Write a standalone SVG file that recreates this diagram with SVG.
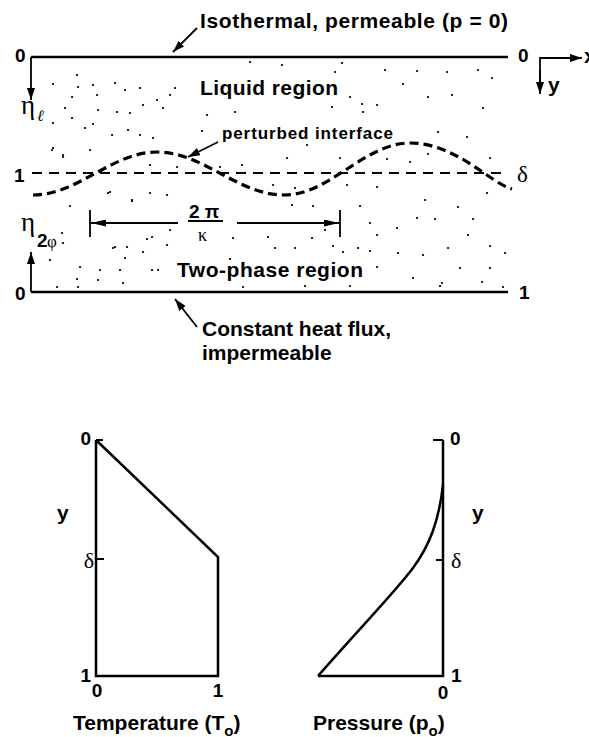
<svg xmlns="http://www.w3.org/2000/svg" width="589" height="737" viewBox="0 0 589 737">
<style>
.ln{stroke:#000;stroke-width:2.5;fill:none}
.th{stroke:#000;stroke-width:1.8;fill:none}
.t{font-family:"Liberation Sans",Arial,"DejaVu Sans",sans-serif;font-weight:bold;fill:#000}
.n{font-family:"Liberation Sans",Arial,"DejaVu Sans",sans-serif;font-weight:bold;font-size:19px;fill:#000}
.gk{font-family:"Liberation Serif","DejaVu Serif",serif;fill:#000}
.dots{stroke:#000;stroke-width:2.2;stroke-linecap:round;fill:none}
</style>
<defs>
<marker id="ah" viewBox="0 0 12 8" refX="12" refY="4" markerWidth="12" markerHeight="8" markerUnits="userSpaceOnUse" orient="auto">
<path d="M0,0 L12,4 L0,8 Z" fill="#000"/>
</marker>
<marker id="ah2" viewBox="0 0 15 7" refX="15" refY="3.5" markerWidth="15" markerHeight="7" markerUnits="userSpaceOnUse" orient="auto">
<path d="M0,0 L15,3.5 L0,7 Z" fill="#000"/>
</marker>
</defs>
<rect width="589" height="737" fill="#fff"/>

<g id="stipple">
<path class="dots" d="M250,62h0.1M282,65h0.1M77,75h0.1M53,84h0.1M78,87h0.1M93,85h0.1M115,83h0.1M125,90h0.1M140,88h0.1M175,88h0.1M170,95h0.1M72,97h0.1M97,95h0.1M157,100h0.1M143,105h0.1M65,108h0.1M98,110h0.1M117,112h0.1M130,113h0.1M163,108h0.1M207,115h0.1M235,112h0.1M53,123h0.1M72,118h0.1M93,124h0.1M85,128h0.1M112,135h0.1M128,130h0.1M140,135h0.1M153,138h0.1M202,131h0.1M52,150h0.1M63,157h0.1M90,150h0.1M150,165h0.1M177,167h0.1M220,167h0.1M242,165h0.1M287,158h0.1M307,145h0.1M342,63h0.1M335,72h0.1M385,70h0.1M417,71h0.1M447,72h0.1M478,70h0.1M492,78h0.1M403,84h0.1M350,97h0.1M362,104h0.1M377,105h0.1M332,107h0.1M363,112h0.1M428,97h0.1M452,95h0.1M483,108h0.1M438,132h0.1M467,137h0.1M340,158h0.1M387,159h0.1M410,162h0.1M428,154h0.1M490,158h0.1M53,148h0.1M63,155h0.1M108,193h0.1M150,193h0.1M167,195h0.1M273,185h0.1M295,188h0.1M347,185h0.1M377,187h0.1M487,193h0.1M70,206h0.1M132,201h0.1M292,205h0.1M313,206h0.1M360,206h0.1M425,200h0.1M458,207h0.1M370,223h0.1M397,228h0.1M417,218h0.1M435,219h0.1M473,219h0.1M147,239h0.1M170,230h0.1M233,238h0.1M268,237h0.1M312,238h0.1M325,230h0.1M377,235h0.1M468,235h0.1M63,243h0.1M113,248h0.1M167,245h0.1M143,252h0.1M275,248h0.1M295,248h0.1M333,246h0.1M343,252h0.1M358,248h0.1M370,251h0.1M398,253h0.1M423,255h0.1M448,248h0.1M490,246h0.1M505,253h0.1M50,260h0.1M125,258h0.1M230,259h0.1M80,267h0.1M100,270h0.1M120,270h0.1M152,270h0.1M158,270h0.1M377,267h0.1M460,268h0.1M490,268h0.1M77,279h0.1M98,280h0.1M123,283h0.1M413,278h0.1M442,283h0.1M482,282h0.1M57,287h0.1M78,287h0.1M243,287h0.1M305,286h0.1M350,286h0.1M440,286h0.1M503,287h0.1M110,192h0.1M132,200h0.1M62,233h0.1M127,247h0.1M115,247h0.1M152,237h0.1"/>
</g>

<g id="top-boundary">
<line class="ln" x1="31" y1="57" x2="508" y2="57"/>
<text class="n" x="15" y="62">0</text>
<text class="n" x="518" y="62">0</text>
</g>

<g id="interface-line">
<line x1="32" y1="173" x2="508" y2="173" stroke="#000" stroke-width="2" stroke-dasharray="10 7"/>
<text class="n" x="14" y="182">1</text>
<text class="gk" x="517" y="182" font-size="23">δ</text>
</g>

<g id="perturbed-wave">
<path d="M33,195 C78,195 112,152 157,152 C203,152 238,195 284,195 C330,195 364,143 410,143 C456,143 490,183 512,189" fill="none" stroke="#000" stroke-width="3.2" stroke-dasharray="9 5"/>
</g>

<g id="bottom-boundary">
<line class="ln" x1="31" y1="292" x2="508" y2="292"/>
<text class="n" x="15" y="300">0</text>
<text class="n" x="519" y="299">1</text>
</g>

<g id="labels">
<text class="t" x="200" y="28" font-size="21" textLength="308" lengthAdjust="spacing">Isothermal, permeable (p = 0)</text>
<text class="t" x="200" y="95" font-size="21" textLength="138" lengthAdjust="spacing">Liquid region</text>
<text class="t" x="222" y="139" font-size="17" textLength="171" lengthAdjust="spacing">perturbed interface</text>
<text class="t" x="177" y="277" font-size="21" textLength="186" lengthAdjust="spacing">Two-phase region</text>
<text class="t" x="202" y="336" font-size="21">Constant heat flux,</text>
<text class="t" x="202" y="360" font-size="21">impermeable</text>
</g>

<g id="eta-axes">
<text class="gk" x="21" y="114" font-size="27">η</text>
<text class="gk" x="37" y="121" font-size="16" font-style="italic">ℓ</text>
<text class="gk" x="21" y="231" font-size="27">η</text>
<text class="n" x="37" y="247" font-size="14">2</text>
<text class="gk" x="47" y="247" font-size="17">φ</text>
</g>

<g id="axis-indicator">
<text class="t" x="548" y="92" font-size="21">y</text>
<text class="t" x="584" y="63" font-size="21">x</text>
</g>

<g id="wavelength">
<line class="th" x1="90" y1="210" x2="90" y2="237"/>
<line class="th" x1="340" y1="210" x2="340" y2="237"/>
<text class="t" x="189" y="218" font-size="19">2 π</text>
<line x1="188" y1="221" x2="223" y2="221" stroke="#000" stroke-width="2"/>
<text class="gk" x="198" y="241" font-size="18">κ</text>
</g>

<g id="temperature-plot">
<path class="ln" d="M96,440 V676 H218 V557 L96,440"/>
<path class="th" d="M96,440 h7 M96,559 h8"/>
<text class="n" x="91" y="445" text-anchor="end">0</text>
<text class="gk" x="94" y="568" font-size="22" text-anchor="end">δ</text>
<text class="n" x="91" y="682" text-anchor="end">1</text>
<text class="n" x="97" y="697" text-anchor="middle">0</text>
<text class="n" x="218" y="697" text-anchor="middle">1</text>
<text class="t" x="57" y="520" font-size="21">y</text>
<text class="t" x="73" y="730" font-size="21">Temperature (T<tspan font-size="15" dy="6">o</tspan><tspan dy="-6">)</tspan></text>
</g>

<g id="pressure-plot">
<path class="ln" d="M443,440 V676 H318"/>
<path class="ln" d="M318,676 C360,628 395,592 413,568 C430,545 439,520 443,485"/>
<path class="th" d="M443,440 h-10 M443,560 h-7"/>
<text class="n" x="450" y="445">0</text>
<text class="gk" x="451" y="568" font-size="22">δ</text>
<text class="n" x="451" y="682">1</text>
<text class="n" x="443" y="699" text-anchor="middle">0</text>
<text class="t" x="472" y="520" font-size="21">y</text>
<text class="t" x="313" y="730" font-size="21">Pressure (p<tspan font-size="15" dy="6">o</tspan><tspan dy="-6">)</tspan></text>
</g>

<g id="connectors">
<line class="th" x1="197" y1="28" x2="173" y2="52" marker-end="url(#ah)"/>
<line class="th" x1="218" y1="142" x2="188" y2="157" marker-end="url(#ah)"/>
<line class="th" x1="197" y1="327" x2="175" y2="299" marker-end="url(#ah)"/>
<line class="th" x1="31" y1="57" x2="31" y2="100" marker-end="url(#ah)"/>
<line class="th" x1="31" y1="292" x2="31" y2="252" marker-end="url(#ah)"/>
<path class="th" d="M540,93 V58 H581"/>
<line class="th" x1="540" y1="70" x2="540" y2="94" marker-end="url(#ah)"/>
<line class="th" x1="560" y1="58" x2="582" y2="58" marker-end="url(#ah)"/>
<line class="th" x1="178" y1="223" x2="91" y2="223" marker-end="url(#ah2)"/>
<line class="th" x1="237" y1="223" x2="339" y2="223" marker-end="url(#ah2)"/>
</g>
</svg>
